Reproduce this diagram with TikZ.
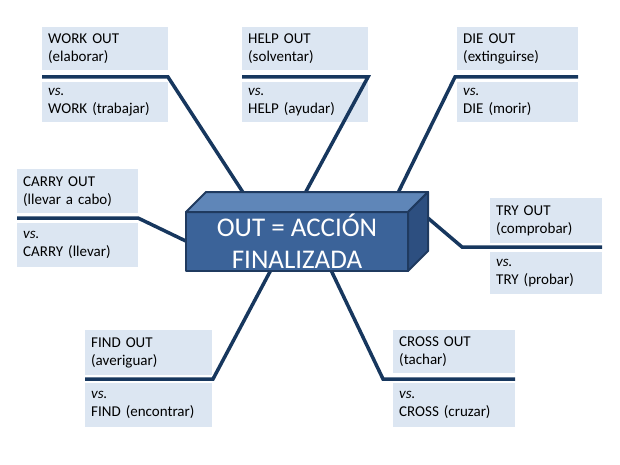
\documentclass[tikz,border=0pt]{standalone}
\usepackage{fontspec}
\setmainfont{Carlito}
\definecolor{boxfill}{HTML}{DCE6F2}
\definecolor{navy}{HTML}{17375E}
\definecolor{frontc}{HTML}{3B6399}
\definecolor{topc}{HTML}{5F86B8}
\definecolor{sidec}{HTML}{2D4F80}
\definecolor{edgec}{HTML}{1F3A5F}
\begin{document}
\begin{tikzpicture}[x=1pt,y=-1pt,
  tbox/.style={fill=boxfill, anchor=north west, inner xsep=6pt, inner ysep=0pt,
    align=left, font=\fontsize{15}{18}\selectfont},
  conn/.style={draw=navy, line width=3.5pt, line join=miter},
  face/.style={draw=edgec, line width=2pt, line join=round},
  title/.style={text=white, anchor=base, font=\fontsize{27}{32}\selectfont}]
\useasboundingbox (0,0) rectangle (620,465);

% ---------- WORK OUT
\node[tbox, text width=114pt, minimum height=43pt] (work) at (42,27) {WORK OUT\\(elaborar)};
\node[tbox, text width=114pt, minimum height=40pt] (workvs) at (42,82) {\textit{vs.}\\WORK (trabajar)};
\coordinate (workL) at (42,77); \coordinate (workC) at (168,77); \coordinate (workE) at (246,197);
\draw[conn] (workL) -- (workC) -- (workE);

% ---------- HELP OUT
\node[tbox, text width=114pt, minimum height=43pt] (help) at (242,27) {HELP OUT\\(solventar)};
\node[tbox, text width=114pt, minimum height=40pt] (helpvs) at (242,82) {\textit{vs.}\\HELP (ayudar)};
\coordinate (helpL) at (242,77); \coordinate (helpC) at (368,77); \coordinate (helpE) at (303,197);
\draw[conn] (helpL) -- (helpC) -- (helpE);

% ---------- DIE OUT
\node[tbox, text width=109pt, minimum height=43pt] (die) at (457,27) {DIE OUT\\(extinguirse)};
\node[tbox, text width=109pt, minimum height=40pt] (dievs) at (457,82) {\textit{vs.}\\DIE (morir)};
\coordinate (dieR) at (578,77); \coordinate (dieC) at (455,77); \coordinate (dieE) at (396,197);
\draw[conn] (dieR) -- (dieC) -- (dieE);

% ---------- CARRY OUT
\node[tbox, text width=109pt, minimum height=44pt] (carry) at (17,169) {CARRY OUT\\(llevar a cabo)};
\node[tbox, text width=109pt, minimum height=44pt] (carryvs) at (17,223) {\textit{vs.}\\CARRY (llevar)};
\coordinate (carryL) at (17,218); \coordinate (carryC) at (138,218); \coordinate (carryE) at (192,244);
\draw[conn] (carryL) -- (carryC) -- (carryE);

% ---------- TRY OUT
\node[tbox, text width=100pt, minimum height=45pt] (try) at (490,198) {TRY OUT\\(comprobar)};
\node[tbox, text width=100pt, minimum height=42pt] (tryvs) at (490,252) {\textit{vs.}\\TRY (probar)};
\coordinate (tryR) at (602,247); \coordinate (tryC) at (462,247); \coordinate (tryE) at (422,213);
\draw[conn] (tryR) -- (tryC) -- (tryE);

% ---------- FIND OUT
\node[tbox, text width=115pt, minimum height=45pt] (find) at (85,330) {FIND OUT\\(averiguar)};
\node[tbox, text width=115pt, minimum height=44pt] (findvs) at (85,383) {\textit{vs.}\\FIND (encontrar)};
\coordinate (findL) at (85,379); \coordinate (findC) at (213,379); \coordinate (findE) at (273,266);
\draw[conn] (findL) -- (findC) -- (findE);

% ---------- CROSS OUT
\node[tbox, text width=110pt, minimum height=43pt] (cross) at (393,330) {CROSS OUT\\(tachar)};
\node[tbox, text width=110pt, minimum height=44pt] (crossvs) at (393,383) {\textit{vs.}\\CROSS (cruzar)};
\coordinate (crossR) at (515,379); \coordinate (crossC) at (383,379); \coordinate (crossE) at (329,266);
\draw[conn] (crossR) -- (crossC) -- (crossE);

% ---------- central 3D box
\coordinate (f1) at (186,212); \coordinate (f2) at (408,212);
\coordinate (f3) at (408,271); \coordinate (f4) at (186,271);
\coordinate (b1) at (206,192); \coordinate (b2) at (428,192); \coordinate (b3) at (428,251);
\filldraw[face, fill=frontc] (f1) -- (f2) -- (f3) -- (f4) -- cycle;
\filldraw[face, fill=topc] (f1) -- (b1) -- (b2) -- (f2) -- cycle;
\filldraw[face, fill=sidec] (f2) -- (b2) -- (b3) -- (f3) -- cycle;
\node[title] (t1) at (297,236) {OUT = ACCIÓN};
\node[title] (t2) at (297,268) {FINALIZADA};
\end{tikzpicture}
\end{document}
